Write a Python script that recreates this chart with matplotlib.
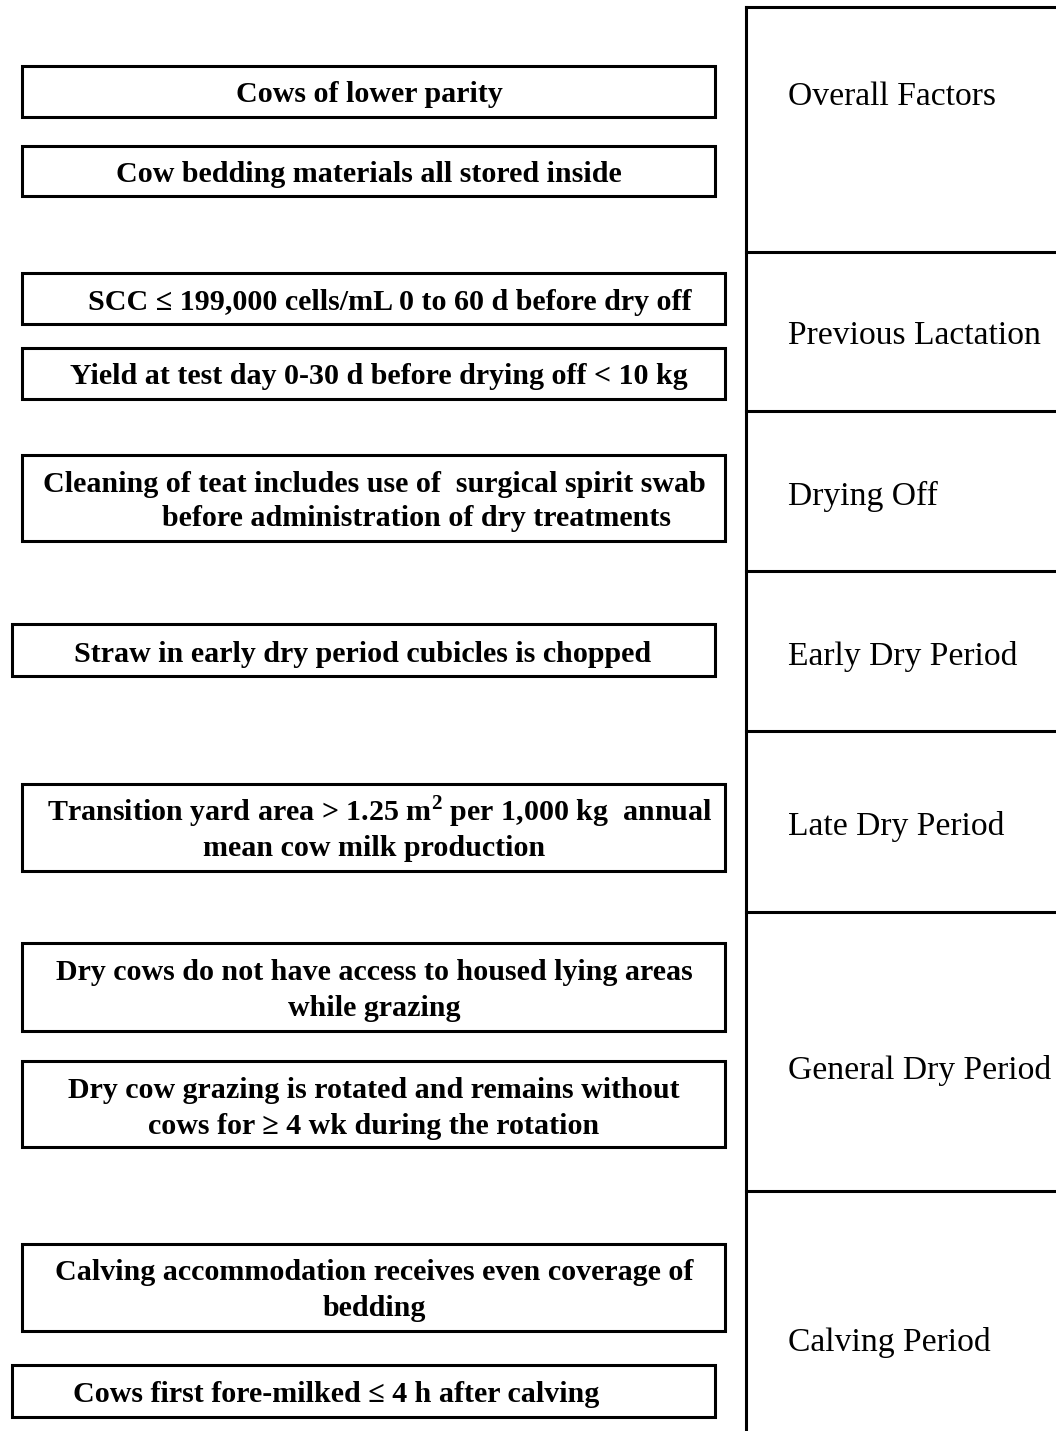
import matplotlib.pyplot as plt
from matplotlib.patches import Rectangle

plt.rcParams["mathtext.fontset"] = "custom"
plt.rcParams["mathtext.rm"] = "Liberation Serif"
plt.rcParams["mathtext.bf"] = "Liberation Serif:bold"

# period labels on the right, top to bottom
PERIODS = [
    "Overall Factors", "Previous Lactation", "Drying Off", "Early Dry Period",
    "Late Dry Period", "General Dry Period", "Calving Period",
]

# factor boxes: text lines per box
FACTORS = [
    ["Cows of lower parity"],
    ["Cow bedding materials all stored inside"],
    ["SCC \u2264 199,000 cells/mL 0 to 60 d before dry off"],
    ["Yield at test day 0-30 d before drying off < 10 kg"],
    ["Cleaning of teat includes use of  surgical spirit swab",
     "before administration of dry treatments"],
    ["Straw in early dry period cubicles is chopped"],
    [r"Transition yard area > 1.25 m$^{\mathbf{2}}$ per 1,000 kg  annual",
     "mean cow milk production"],
    ["Dry cows do not have access to housed lying areas", "while grazing"],
    ["Dry cow grazing is rotated and remains without",
     "cows for \u2265 4 wk during the rotation"],
    ["Calving accommodation receives even coverage of", "bedding"],
    ["Cows first fore-milked \u2264 4 h after calving"],
]

# layout in pixel units (figure is 1056 x 1431)
PERIOD_EDGES = [7, 252, 411, 571, 731, 912, 1191, 1431]
PERIOD_TEXT_Y = [95, 334, 494, 654, 824, 1068, 1340]
BOX_X = [(22, 715), (22, 715), (22, 725), (22, 725), (22, 725), (12, 715),
         (22, 725), (22, 725), (22, 725), (22, 725), (12, 715)]
BOX_Y = [(66, 117), (146, 196), (273, 324), (348, 399), (455, 541), (624, 676),
         (784, 871), (943, 1031), (1061, 1147), (1244, 1331), (1365, 1417)]
LINE_POS = [[(369, 93)], [(369, 172)], [(390, 300)], [(379, 375)],
            [(374, 482), (416, 517)], [(363, 652)],
            [(380, 805), (374, 847)], [(374, 971), (374, 1007)],
            [(374, 1088), (374, 1124)], [(374, 1271), (374, 1307)],
            [(336, 1392)]]

FONT = ["Liberation Serif", "DejaVu Serif"]
W, H = 1056, 1431

fig = plt.figure(figsize=(W / 100, H / 100), dpi=100)
ax = fig.add_axes([0, 0, 1, 1])
ax.set_xlim(0, W)
ax.set_ylim(H, 0)
ax.axis("off")

lw = 2.2
# right column
ax.plot([746, 746], [PERIOD_EDGES[0], H], color="black", lw=lw, solid_capstyle="projecting")
for y in PERIOD_EDGES[:-1]:
    ax.plot([746, W], [y, y], color="black", lw=lw)
for label, y in zip(PERIODS, PERIOD_TEXT_Y):
    ax.text(788, y + 2, label, family=FONT, fontsize=24.2, ha="left", va="center")

# factor boxes
for lines, (x0, x1), (y0, y1), pos in zip(FACTORS, BOX_X, BOX_Y, LINE_POS):
    ax.add_patch(Rectangle((x0, y0), x1 - x0, y1 - y0, fill=False,
                           edgecolor="black", lw=lw, joinstyle="miter"))
    for line, (tx, ty) in zip(lines, pos):
        ax.text(tx, ty + 2, line, family=FONT, fontsize=21.6, fontweight="bold",
                ha="center", va="center_baseline" if "$" in line else "center")

fig.savefig("out.png", dpi=100, facecolor="white")
